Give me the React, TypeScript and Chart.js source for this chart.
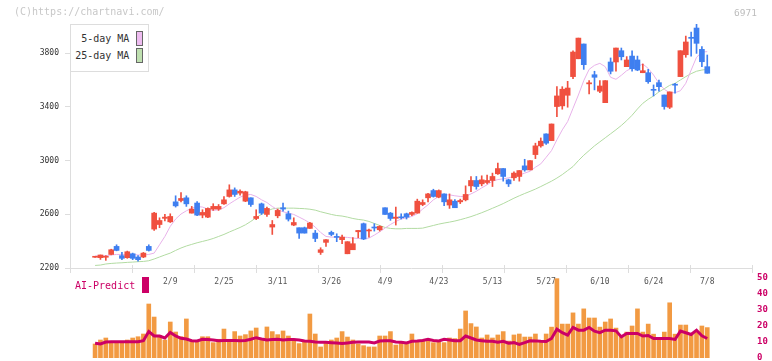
import React, { useEffect, useRef } from 'react';
import { Chart, registerables } from 'chart.js';

Chart.register(...registerables);

const MONO = '"DejaVu Sans Mono", monospace';

// Daily candles (oldest first)
const opens = [2280,2277,2280,2301,2361,2292,2277,2306,2282,2282, 2361,2490,2524,2570,2544,2693,2703,2723,2609,2684, 2594,2579,2639,2639,2678,2733,2782,2758,2698,2723, 2569,2678,2599,2505,2589,2649,2604,2520,2500,2500, 2495,2460,2316,2391,2465,2435,2411,2306,2336,2470, 2530,2476,2502,2485,2649,2609,2570,2579,2604,2599, 2609,2673,2723,2777,2728,2752,2669,2698,2693,2708, 2812,2852,2827,2837,2852,2902,2941,2857,2872,2882, 2961,2931,3045,3110,3199,3149,3403,3408,3487,3626, 3759,3869,3572,3640,3517,3432,3735,3735,3819,3700, 3779,3750,3655,3655,3530,3581,3489,3398,3566,3626, 3789,3919,3988,3829,3700];
const highs = [2285,2297,2292,2340,2373,2316,2326,2311,2292,2316, 2373,2614,2574,2600,2604,2738,2762,2738,2659,2694, 2634,2649,2679,2673,2733,2820,2797,2782,2772,2723, 2634,2684,2654,2554,2639,2684,2624,2574,2500,2505, 2540,2480,2351,2411,2475,2455,2446,2396,2426,2480, 2535,2490,2530,2515,2649,2614,2654,2604,2609,2619, 2713,2708,2757,2787,2782,2752,2752,2710,2713,2812, 2882,2882,2887,2892,2907,2981,2941,2862,2917,2926, 3010,3000,3130,3169,3199,3273,3551,3551,3591,3819, 3913,3869,3596,3666,3596,3596,3765,3839,3839,3775, 3819,3779,3720,3680,3564,3601,3489,3512,3576,3819, 3928,3958,4018,3849,3787];
const lows = [2278,2264,2257,2298,2328,2262,2272,2262,2250,2277, 2326,2480,2500,2550,2539,2654,2693,2659,2609,2590, 2574,2575,2629,2629,2673,2728,2733,2743,2694,2659, 2560,2599,2584,2450,2574,2624,2550,2515,2420,2460, 2495,2396,2301,2361,2440,2396,2381,2306,2336,2425, 2411,2430,2475,2475,2599,2555,2520,2565,2565,2589, 2609,2664,2693,2728,2723,2664,2644,2649,2680,2700, 2768,2787,2812,2827,2807,2897,2847,2807,2852,2847, 2921,2931,3015,3100,3120,3149,3328,3383,3398,3611, 3759,3680,3497,3527,3507,3432,3646,3666,3750,3700, 3666,3670,3655,3576,3482,3517,3383,3388,3502,3626, 3770,3779,3799,3700,3651];
const closes = [2283,2297,2284,2336,2331,2272,2321,2272,2262,2311, 2331,2609,2554,2579,2584,2663,2718,2678,2639,2594, 2614,2644,2659,2659,2708,2782,2748,2772,2768,2673, 2584,2609,2644,2524,2629,2639,2564,2539,2460,2460, 2535,2420,2336,2411,2450,2428,2430,2396,2381,2480, 2416,2482,2498,2510,2599,2569,2579,2574,2579,2614, 2698,2688,2752,2733,2777,2693,2708,2649,2703,2748, 2852,2807,2857,2852,2882,2941,2882,2827,2907,2926, 2931,3000,3110,3145,3130,3273,3482,3532,3541,3809, 3913,3715,3580,3621,3556,3596,3666,3839,3774,3750, 3685,3675,3670,3588,3524,3551,3403,3512,3562,3819, 3884,3911,3874,3737,3651];

// Moving averages
const ma5 = [2290,2290,2292,2297,2301,2301,2301,2301,2297,2297, 2301,2311,2373,2435,2510,2565,2602,2626,2646,2658, 2654,2639,2629,2634,2649,2678,2703,2728,2743,2748, 2733,2708,2688,2658,2634,2619,2609,2599,2579,2559, 2535,2505,2465,2435,2430,2430,2430,2428,2423,2420, 2418,2423,2445,2470,2498,2524,2547,2565,2574,2584, 2604,2639,2671,2708,2733,2745,2745,2738,2733,2733, 2752,2772,2797,2820,2847,2859,2864,2872,2882,2892, 2907,2921,2951,2976,3025,3075,3155,3229,3291,3390, 3489,3596,3680,3710,3725,3700,3621,3606,3636,3670, 3690,3700,3720,3687,3638,3576,3531,3506,3506,3521, 3576,3675,3770,3809,3812];
const ma25 = [2219,2222,2230,2234,2237,2239,2242,2244,2247,2249, 2254,2267,2282,2297,2311,2331,2349,2364,2376,2388, 2398,2408,2420,2435,2450,2468,2485,2502,2522,2547, 2575,2600,2625,2640,2646,2646,2646,2646,2644,2642, 2638,2631,2619,2609,2599,2591,2587,2579,2569,2562, 2557,2547,2532,2517,2502,2495,2492,2492,2495,2495, 2495,2497,2507,2517,2527,2535,2542,2550,2560,2571, 2583,2597,2612,2628,2645,2662,2680,2700,2720,2738, 2755,2771,2788,2807,2827,2847,2870,2896,2926,2956, 3000,3040,3075,3110,3140,3170,3200,3230,3262,3298, 3338,3385,3427,3457,3482,3512,3536,3561,3576,3601, 3626,3648,3666,3675,3680];

// Lower panel: daily score bars and the AI-Predict line
const scoreBars = [8.75,11.25,12.5,10.2,10.2,10.2,11.25,12.5,13.3,15, 33.75,25.6,14.2,11.25,22.5,16.25,13.3,24.4,10.8,10.8, 13.3,13.3,9.6,11.7,18.1,11.7,16.5,13.75,14.6,16.9, 18.75,11.25,19.4,16.5,14.6,16.9,13.75,11,9, 10.2,27.5,15,6.9,10.2,11.25,12.5,16.5,13.1,11.25, 8.75,7.7,6.9,6.9,13.75,13.75,16.5,8.1,10.2,8.75, 15,10.2,11.25,11.25,9.6,10.2,9.6,12.5,12.1,18.1, 29.4,21.5,19.4,12.5,14.4,12.5,14.4,16.5,10.6,14.4, 15,13.1,13.1, 15,11,15,19.3,49.6,21.2,21.2,28.2,21.2,30.7, 25,25,19.3,22.5,24.4,18.7,13.7,16.2,20,30.7, 16.2,21.2,14.9,11.1,16.2,34.5,14.9,20.6,20.6,14.9, 16.5,20,19];
const aiPredict = [9.2,8.75,10,10.2,10.2,10.2,10.2,10.2,10.2,10.8, 16.5,13.75,13.75,12.5,16,13.75,12.3,11.9,10.8,10.6, 11.7,11.5,11.25,10.8,11,11,11,10.8,11,11.7, 12.7,11.9,11.25,11.5,11.7,11.25,11.5,11.5,11.25, 10.6,10.4,10,9.8,9.8,9.6,9.4,9,9.4,9.8, 10,10,10,9.4,10.6,10.8,10.8,10,9.8,9.4, 10.4,10.6,11,11.7,11,10.6,11.7,11.25,10.8,10.8, 13.75,12.5,11.25,10.8,10.4,10.4,9.8,10.4,9.2,9.6, 8.5,9.6,10.8, 10.7,10.4,10.3,12.2,18,15.8,14.3,19.1,17.4,17.4, 19.1,16.8,15.8,17.4,17.4,17,13.2,15.3,15.3,15.3, 13.7,14.1,12.2,12.2,12.2,12.2,11.6,16.8,15.8,14.7, 17.4,13.9,12.2];

// Date ticks: candle index and its label
const dateTickIndex = [14, 24, 34, 44, 54, 64, 74, 84, 94, 104, 114];
const dateTickLabels = ['2/9', '2/25', '3/11', '3/26', '4/9', '4/23', '5/13', '5/27', '6/10', '6/24', '7/8'];
const priceTicks = [2200, 2600, 3000, 3400, 3800];
const scoreTicks = [0, 10, 20, 30, 40, 50];

const UP = '#f0503f';
const DOWN = '#3f7ff0';
const MAGENTA = '#cc0066';
const AXIS = '#dddddd';

const X_MIN = -4.67;
const X_MAX = 122.33;

export default function App() {
  const priceRef = useRef<HTMLCanvasElement>(null);
  const scoreRef = useRef<HTMLCanvasElement>(null);

  useEffect(() => {
    const idx = closes.map((_, i) => i);
    const colors = idx.map((i) => (closes[i] >= opens[i] ? UP : DOWN));

    const priceChart = new Chart(priceRef.current!, {
      type: 'bar',
      data: {
        datasets: [
          {
            type: 'bar',
            data: idx.map((i) => ({ x: i, y: [opens[i], closes[i]] })),
            backgroundColor: colors,
            barThickness: 5,
            minBarLength: 1,
            grouped: false,
            order: 0,
          } as any,
          {
            type: 'bar',
            data: idx.map((i) => ({ x: i, y: [lows[i], highs[i]] })),
            backgroundColor: colors,
            barThickness: 1,
            grouped: false,
            order: 1,
          } as any,
          {
            type: 'line',
            data: idx.map((i) => ({ x: i, y: ma5[i] })),
            borderColor: '#e8b2ea',
            borderWidth: 1,
            pointRadius: 0,
            tension: 0,
            order: 2,
          },
          {
            type: 'line',
            data: idx.map((i) => ({ x: i, y: ma25[i] })),
            borderColor: '#b2dba2',
            borderWidth: 1,
            pointRadius: 0,
            tension: 0,
            order: 3,
          },
        ],
      },
      options: {
        animation: false,
        responsive: false,
        layout: { padding: { left: 0, top: 24, right: 20, bottom: 73 } },
        plugins: { legend: { display: false }, tooltip: { enabled: false } },
        scales: {
          x: {
            type: 'linear',
            min: X_MIN,
            max: X_MAX,
            offset: false,
            afterBuildTicks: (s: any) => {
              s.ticks = dateTickIndex.map((v) => ({ value: v }));
            },
            afterFit: (s: any) => {
              s.height = 20;
            },
            ticks: {
              autoSkip: false,
              maxRotation: 0,
              padding: 9,
              color: '#555',
              font: { family: MONO, size: 8 },
              callback: (v: any) => dateTickLabels[dateTickIndex.indexOf(Number(v))] ?? '',
            },
            grid: { display: true, drawOnChartArea: false, drawTicks: false, offset: false, color: AXIS },
            border: { display: true, color: AXIS, width: 1 },
          },
          y: {
            type: 'linear',
            min: 2200,
            max: 4018,
            afterBuildTicks: (s: any) => {
              s.ticks = priceTicks.map((v) => ({ value: v }));
            },
            afterFit: (s: any) => {
              s.width = 70;
            },
            ticks: {
              color: '#333',
              padding: 6,
              font: { family: MONO, size: 8 },
              callback: (v: any) => String(v),
            },
            grid: { drawOnChartArea: false, drawTicks: true, tickLength: 5, color: AXIS },
            border: { display: true, color: AXIS, width: 1 },
          },
        },
      },
    });

    const scoreChart = new Chart(scoreRef.current!, {
      type: 'bar',
      data: {
        datasets: [
          {
            type: 'line',
            data: idx.map((i) => ({ x: i, y: aiPredict[i] })),
            borderColor: MAGENTA,
            borderWidth: 3,
            pointRadius: 0,
            tension: 0,
            order: 0,
          },
          {
            type: 'bar',
            data: idx.map((i) => ({ x: i, y: scoreBars[i] })),
            backgroundColor: '#f29a42',
            barThickness: 4,
            order: 1,
          } as any,
        ],
      },
      options: {
        animation: false,
        responsive: false,
        layout: { padding: { left: 70, top: 265, right: 0, bottom: 14 } },
        plugins: { legend: { display: false }, tooltip: { enabled: false } },
        scales: {
          x: {
            type: 'linear',
            position: 'top',
            min: X_MIN,
            max: X_MAX,
            offset: false,
            afterBuildTicks: (s: any) => {
              const n = 11;
              s.ticks = Array.from({ length: n + 1 }, (_, k) => ({ value: s.min + ((s.max - s.min) * k) / n }));
            },
            afterFit: (s: any) => {
              s.height = 8;
            },
            ticks: { display: false },
            grid: { display: true, drawOnChartArea: false, drawTicks: true, tickLength: 8, offset: false, color: AXIS },
            border: { display: false },
          },
          y: {
            type: 'linear',
            position: 'right',
            min: 0,
            max: 53.125,
            afterBuildTicks: (s: any) => {
              s.ticks = scoreTicks.map((v) => ({ value: v }));
            },
            afterFit: (s: any) => {
              s.width = 20;
            },
            ticks: { color: MAGENTA, padding: 5, font: { family: MONO, size: 9, weight: 'bold' } },
            grid: { display: false, drawTicks: false },
            border: { display: false },
          },
        },
      },
    });

    return () => {
      priceChart.destroy();
      scoreChart.destroy();
    };
  }, []);

  const abs = (o: React.CSSProperties): React.CSSProperties => ({ position: 'absolute', ...o });
  const text = (o: React.CSSProperties): React.CSSProperties =>
    abs({ fontFamily: MONO, fontSize: 10, lineHeight: '10px', whiteSpace: 'pre', ...o });

  return (
    <div style={{ position: 'absolute', left: 0, top: 0, width: 772, height: 361, background: '#fff', overflow: 'hidden' }}>
      <canvas ref={priceRef} width={772} height={361} style={abs({ left: 0, top: 0, width: 772, height: 361 })} />
      <canvas ref={scoreRef} width={772} height={372} style={abs({ left: 0, top: 0, width: 772, height: 372 })} />

      <div style={text({ left: 14, top: 7, color: '#c8c8c8' })}>(C)https://chartnavi.com/</div>
      <div style={text({ left: 734, top: 8, color: '#bdbdbd', fontSize: 9.5 })}>6971</div>

      <div
        style={abs({
          left: 70,
          top: 24,
          width: 79,
          height: 48,
          boxSizing: 'border-box',
          border: '1px solid #dddddd',
          background: '#fff',
        })}
      >
        <div style={text({ right: 18.7, top: 8.5, color: '#333' })}>5-day MA</div>
        <div style={abs({ left: 65, top: 6, width: 7, height: 15, boxSizing: 'border-box', border: '1px solid #666', background: '#eebcf0' })} />
        <div style={text({ right: 18.7, top: 25.5, color: '#333' })}>25-day MA</div>
        <div style={abs({ left: 65, top: 23, width: 7, height: 15, boxSizing: 'border-box', border: '1px solid #666', background: '#bfe0b0' })} />
      </div>

      <div style={text({ left: 75, top: 280.5, color: MAGENTA })}>AI-Predict</div>
      <div style={abs({ left: 142, top: 277, width: 7, height: 16, background: MAGENTA })} />
    </div>
  );
}
